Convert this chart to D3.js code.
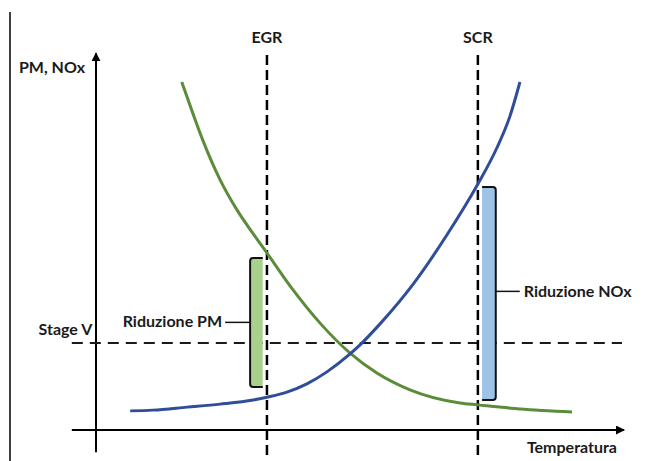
<!DOCTYPE html>
<html>
<head>
<meta charset="utf-8">
<script src="https://cdn.jsdelivr.net/npm/d3@7"></script>
<style>
    body { margin: 0; background: #fff; }
    text { font-family: Lato, "Liberation Sans", sans-serif; font-weight: bold; fill: #1a1a1a; font-size: 16px; }
</style>
</head>
<body>
<div id="chart"></div>
<script>
// curve values (arbitrary units 0-100)
const pmTemp = [16.3, 18.4, 20.3, 23.6, 26.8, 29.8, 32.5, 37.5, 42.6, 48.3, 53.4, 59.7, 69.2, 72.6, 80.6, 90.5];
const pmValue = [92.8, 84.5, 77.3, 66.7, 58.7, 52.5, 47.2, 37.3, 28.5, 20.5, 15.2, 10.7, 7.2, 6.7, 5.6, 4.8];

const noxTemp = [6.5, 10.8, 17.3, 23.6, 29.9, 32.7, 36.3, 40.1, 43.9, 48.3, 50.2, 54.0, 60.3, 66.7, 72.6, 76.2, 78.7, 80.6];
const noxValue = [5.1, 5.3, 6.1, 6.9, 8.0, 8.8, 10.1, 12.3, 15.5, 20.3, 22.7, 28.3, 38.9, 52.0, 65.6, 75.2, 83.7, 92.8];

const techNames = ["EGR", "SCR"];
const techTemp = [32.5, 72.6];

const stageName = "Stage V";
const stageLimit = 23.2;

// reduction bars: [x0, x1, top, bottom]
const barLabels = ["Riduzione PM", "Riduzione NOx"];
const barX0 = [29.3, 73.4];
const barX1 = [31.7, 76.0];
const barTop = [45.9, 64.8];
const barBottom = [11.5, 8.0];

const axisLabels = ["PM, NOx", "Temperatura"];

const width = 649, height = 461;

const svg = d3.select("#chart").append("svg")
    .attr("width", width)
    .attr("height", height);

const x = d3.scaleLinear().domain([0, 100]).range([96, 622]);
const y = d3.scaleLinear().domain([0, 100]).range([430, 55]);

// frame line on the left
svg.append("line")
    .attr("x1", 10).attr("x2", 10)
    .attr("y1", 12).attr("y2", height)
    .style("stroke", "#000")
    .style("stroke-width", 1.5);

const defs = svg.append("defs");
defs.append("marker")
    .attr("id", "arrow")
    .attr("viewBox", "0 0 10 10")
    .attr("refX", 9).attr("refY", 5)
    .attr("markerWidth", 4.5).attr("markerHeight", 4.5)
    .attr("orient", "auto")
    .append("path")
    .attr("d", "M0,0 L10,5 L0,10 z")
    .style("fill", "#000");

// axes
svg.append("line")
    .attr("x1", x(0)).attr("x2", x(0))
    .attr("y1", y(-5.9)).attr("y2", y(100.5))
    .style("stroke", "#000")
    .style("stroke-width", 2)
    .attr("marker-end", "url(#arrow)");

svg.append("line")
    .attr("x1", x(-4.6)).attr("x2", x(100.4))
    .attr("y1", y(0)).attr("y2", y(0))
    .style("stroke", "#000")
    .style("stroke-width", 2)
    .attr("marker-end", "url(#arrow)");

// Stage V limit
svg.append("line")
    .attr("x1", x(-4.6)).attr("x2", x(100))
    .attr("y1", y(stageLimit)).attr("y2", y(stageLimit))
    .style("stroke", "#1a1a1a")
    .style("stroke-width", 2)
    .style("stroke-dasharray", "11,7");

svg.append("text")
    .attr("x", x(-0.7))
    .attr("y", y(stageLimit) - 8)
    .style("text-anchor", "end")
    .text(stageName);

// EGR / SCR vertical lines
techTemp.forEach((t, i) => {
    svg.append("line")
        .attr("x1", x(t)).attr("x2", x(t))
        .attr("y1", y(100)).attr("y2", y(-6.7))
        .style("stroke", "#000")
        .style("stroke-width", 2.5)
        .style("stroke-dasharray", "10,5");
    svg.append("text")
        .attr("x", x(t))
        .attr("y", 43)
        .style("text-anchor", "middle")
        .text(techNames[i]);
});

// curves
const line = d3.line()
    .x(d => x(d[0]))
    .y(d => y(d[1]))
    .curve(d3.curveMonotoneX);

svg.append("path")
    .datum(pmTemp.map((t, i) => [t, pmValue[i]]))
    .attr("d", line)
    .style("fill", "none")
    .style("stroke", "#5b8c3a")
    .style("stroke-width", 3);

svg.append("path")
    .datum(noxTemp.map((t, i) => [t, noxValue[i]]))
    .attr("d", line)
    .style("fill", "none")
    .style("stroke", "#2f4d9b")
    .style("stroke-width", 3);

// reduction bars with brackets
const barFill = ["#a9d18e", "#9dc3e6"];
barLabels.forEach((label, i) => {
    const x0 = x(barX0[i]), x1 = x(barX1[i]);
    const y0 = y(barTop[i]), y1 = y(barBottom[i]);
    const ym = i === 0 ? y0 + (y1 - y0) * 0.5 : y0 + (y1 - y0) * 0.49;

    svg.append("rect")
        .attr("x", x0).attr("y", y0)
        .attr("width", x1 - x0).attr("height", y1 - y0)
        .style("fill", barFill[i]);

    const r = 3;
    let d;
    if (i === 0) {
        d = `M${x1},${y0} H${x0 + r} Q${x0},${y0} ${x0},${y0 + r} V${y1 - r} Q${x0},${y1} ${x0 + r},${y1} H${x1}`;
    } else {
        d = `M${x0},${y0} H${x1 - r} Q${x1},${y0} ${x1},${y0 + r} V${y1 - r} Q${x1},${y1} ${x1 - r},${y1} H${x0}`;
    }
    svg.append("path")
        .attr("d", d)
        .style("fill", "none")
        .style("stroke", "#111")
        .style("stroke-width", 2);

    if (i === 0) {
        svg.append("line")
            .attr("x1", x0 - 25).attr("x2", x0)
            .attr("y1", ym).attr("y2", ym)
            .style("stroke", "#111").style("stroke-width", 1.5);
        svg.append("text")
            .attr("x", x0 - 28).attr("y", ym + 5)
            .style("text-anchor", "end")
            .text(label);
    } else {
        svg.append("line")
            .attr("x1", x1).attr("x2", x1 + 24)
            .attr("y1", ym).attr("y2", ym)
            .style("stroke", "#111").style("stroke-width", 1.5);
        svg.append("text")
            .attr("x", x1 + 28).attr("y", ym + 6)
            .text(label);
    }
});

// axis titles
svg.append("text")
    .attr("x", 85).attr("y", 73)
    .style("text-anchor", "end")
    .text(axisLabels[0]);

svg.append("text")
    .attr("x", 617).attr("y", 453)
    .style("text-anchor", "end")
    .text(axisLabels[1]);
</script>
</body>
</html>
